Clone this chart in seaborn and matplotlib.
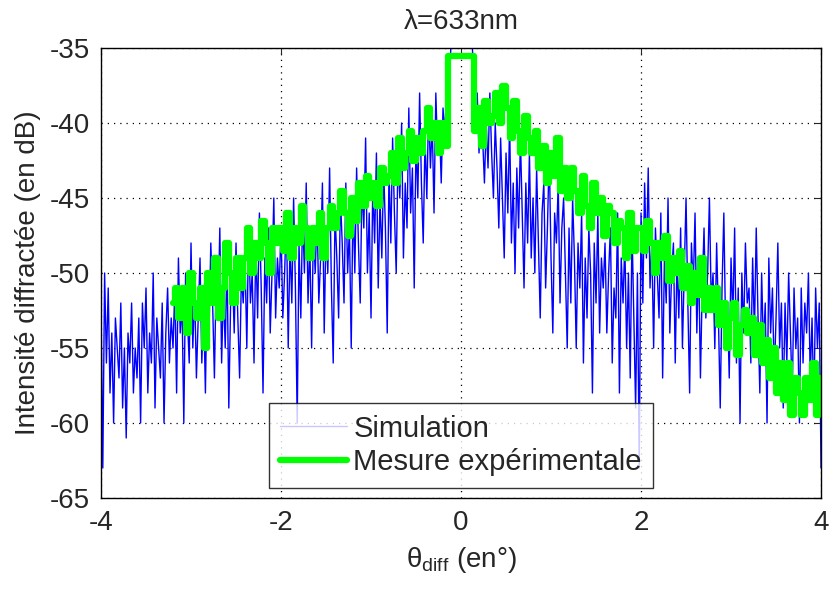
import numpy as np
import pandas as pd
import seaborn as sns
import matplotlib.pyplot as plt

# simulated diffracted intensity (dB), theta from -4 to 4 deg, step 0.02
sim_theta = np.round(np.arange(-4.0, 4.0001, 0.02), 2)
sim_db = [
    -52, -63, -50, -56, -51, -58, -54, -60, -53, -55, -57, -52, -59, -55, -61, -54, -56, -52, -58, -55,
    -57, -53, -60, -52, -55, -51, -58, -54, -56, -50, -59, -53, -55, -57, -52, -60, -54, -51, -56, -53,
    -55, -51, -58, -49, -54, -52, -60, -50, -53, -56, -48, -55, -51, -57, -53, -49, -56, -52, -58, -50,
    -54, -48, -52, -57, -50, -53, -47, -56, -51, -55, -49, -59, -52, -50, -54, -48, -53, -57, -50, -52,
    -49, -55, -47, -52, -50, -56, -48, -53, -46, -51, -58, -49, -52, -47, -54, -50, -45, -53, -49, -51,
    -47, -53, -50, -46, -55, -48, -52, -45, -51, -60, -48, -53, -46, -50, -44, -52, -48, -55, -47, -50,
    -46, -52, -49, -44, -54, -47, -50, -43, -51, -56, -46, -49, -53, -45, -48, -52, -44, -50, -47, -55,
    -45, -50, -43, -48, -52, -44, -47, -41, -50, -46, -53, -44, -48, -42, -51, -45, -49, -43, -47, -54,
    -43, -48, -41, -46, -50, -42, -45, -40, -49, -44, -47, -39, -46, -43, -51, -41, -45, -38, -44, -48,
    -41, -45, -39, -43, -40, -46, -38, -42, -40, -44, -39, -41, -37, -40, -36, -33, -30, -28, -27, -26,
    -25, -26, -27, -29, -31, -33, -34, -37, -40, -38, -42, -39, -41, -44, -40, -43, -38, -42, -45, -40,
    -43, -47, -41, -45, -49, -42, -46, -40, -48, -44, -50, -43, -47, -41, -46, -51, -44, -48, -42, -49,
    -45, -50, -43, -48, -53, -46, -44, -51, -47, -42, -49, -54, -46, -48, -44, -52, -47, -45, -50, -55,
    -47, -52, -45, -49, -55, -48, -51, -46, -56, -49, -53, -47, -50, -58, -48, -52, -46, -54, -49, -51,
    -48, -54, -50, -47, -56, -51, -53, -46, -58, -49, -52, -48, -55, -50, -57, -47, -53, -59, -50, -63,
    -46, -52, -44, -49, -43, -51, -48, -55, -47, -50, -53, -46, -57, -49, -52, -45, -54, -50, -48, -56,
    -49, -53, -47, -55, -50, -45, -52, -58, -48, -51, -46, -54, -49, -57, -51, -47, -53, -50, -45, -52,
    -50, -55, -48, -53, -59, -51, -46, -54, -52, -57, -49, -53, -47, -56, -51, -60, -50, -54, -48, -52,
    -51, -56, -49, -54, -47, -53, -58, -50, -55, -52, -60, -49, -54, -51, -57, -53, -48, -55, -52, -59,
    -52, -56, -50, -54, -58, -51, -55, -53, -60, -51, -56, -52, -54, -50, -57, -53, -59, -51, -55, -52,
    -63,
]

# measured intensity (dB), theta from -3.2 to 4 deg, step 0.04
mes_theta = np.round(np.arange(-3.2, 4.0001, 0.04), 2)
mes_db = [
    -52, -51, -53, -51, -54, -50, -52, -53, -51, -55,
    -50, -52, -49, -53, -51, -48, -50, -52, -49, -51,
    -49, -47, -50, -48, -49, -46.5, -48, -50, -47, -48,
    -47, -48.5, -46, -49, -47, -48, -45.5, -47, -49, -47,
    -48, -46, -49, -47, -45.5, -47, -46, -44.5, -46, -47.5,
    -45, -46.5, -44, -45.5, -43.5, -45, -44, -45.5, -43, -44,
    -43.5, -42, -44, -41, -43, -42, -40.5, -42.5, -41, -42,
    -40.5, -39, -41, -40, -42, -40, -41.5, -35.5, -35.5, -35.5,
    -35.5, -35.5, -35.5, -35.5, -40.5, -39, -41.5, -38.5, -40, -39.5,
    -38, -40, -37.5, -39, -41, -38.5, -40.5, -42, -39.5, -41,
    -42, -40.5, -43, -41.5, -44, -42, -43.5, -41, -44.5, -43,
    -45, -43, -44.5, -46, -43.5, -45.5, -47, -44, -46, -45,
    -47.5, -45.5, -46, -48, -46.5, -47, -49, -46, -48.5, -47,
    -47, -48.5, -46.5, -48, -50, -48, -49, -47.5, -50.5, -49,
    -50, -48.5, -51, -49.5, -52, -50, -51.5, -49, -52.5, -51,
    -52.5, -51, -53.5, -52, -55, -53, -52, -55.5, -53.5, -52.5,
    -54, -53, -55.5, -53.5, -56, -54.5, -57, -55, -58, -56,
    -58.5, -56, -59.5, -57, -58, -59.5, -57, -58.5, -56, -59.5,
    -57,
]

sim = pd.DataFrame({'theta': sim_theta, 'db': sim_db})
mes = pd.DataFrame({'theta': mes_theta, 'db': mes_db})

sns.set_style('white')
plt.rcParams['font.family'] = ['Liberation Sans', 'DejaVu Sans']
plt.rcParams['axes.unicode_minus'] = False
plt.rcParams['mathtext.fontset'] = 'custom'
plt.rcParams['mathtext.rm'] = 'Liberation Sans'
plt.rcParams['mathtext.it'] = 'Liberation Sans'

fig = plt.figure(figsize=(8.3, 5.92), dpi=100)
ax = fig.add_axes([0.1217, 0.1588, 0.8675, 0.7601])

sns.lineplot(data=sim, x='theta', y='db', ax=ax, color='blue', lw=1.0,
             sort=False, estimator=None, label='Simulation')
sns.lineplot(data=mes, x='theta', y='db', ax=ax, color='#00ff00', lw=4.5,
             sort=False, estimator=None, drawstyle='steps-mid',
             label='Mesure expérimentale')

ax.set_xlim(-4, 4)
ax.set_ylim(-65, -35)
ax.set_xticks([-4, -2, 0, 2, 4])
ax.set_yticks(range(-65, -34, 5))
ax.grid(True, color='black', linestyle=(0, (1, 4)), linewidth=0.9)
ax.tick_params(direction='in', top=True, right=True, labelsize=20, length=5)
ax.tick_params(axis='x', pad=9)
ax.tick_params(axis='y', pad=8)
for s in ax.spines.values():
    s.set_color('black')
    s.set_linewidth(1)

ax.set_title('λ=633nm', fontsize=20, pad=14)
ax.set_xlabel(r'$\mathrm{θ}_{\mathrm{diff}}$ (en°)', fontsize=20, labelpad=6)
ax.set_ylabel('Intensité diffractée (en dB)', fontsize=20, labelpad=6)

leg = ax.legend(loc='lower center', bbox_to_anchor=(0.5, 0.022), fontsize=21,
                frameon=True, fancybox=False, borderpad=0.4, handlelength=2.3,
                labelspacing=0.2, handletextpad=0.2, borderaxespad=0)
leg.get_frame().set_edgecolor('black')
leg.get_frame().set_linewidth(1)
leg.get_lines()[0].set_color('#c8c8ff')
leg.get_lines()[0].set_linewidth(1)

fig.savefig('out.png', dpi=100)
